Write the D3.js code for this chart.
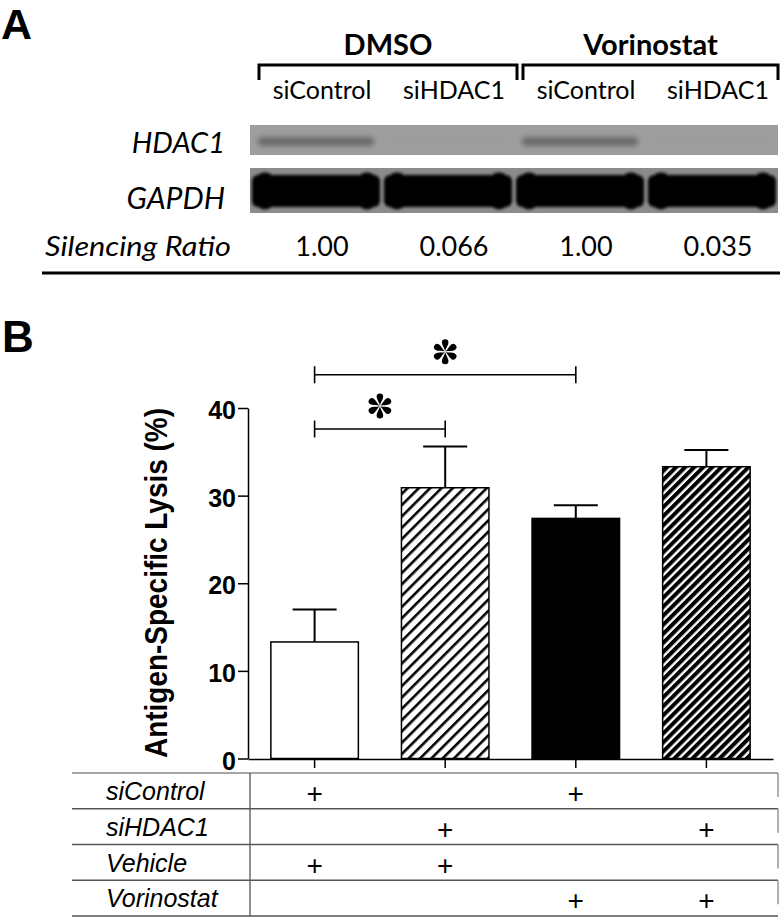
<!DOCTYPE html>
<html>
<head>
<meta charset="utf-8">
<script src="https://cdn.jsdelivr.net/npm/d3@7"></script>
<style>
body { margin: 0; background: #fff; }
svg { display: block; }
</style>
</head>
<body>
<div id="fig"></div>
<script>
// ---- panel A: western blot ----
var treatments = ["DMSO", "Vorinostat"]
var lanes = ["siControl", "siHDAC1", "siControl", "siHDAC1"]
var laneTreatment = ["DMSO", "DMSO", "Vorinostat", "Vorinostat"]
var hdac1Signal = [1.0, 0.066, 1.0, 0.035]
var gapdhSignal = [1, 1, 1, 1]
var ratioLabels = ["1.00", "0.066", "1.00", "0.035"]

// ---- panel B: lysis bars ----
var groups = ["siControl+Vehicle", "siHDAC1+Vehicle", "siControl+Vorinostat", "siHDAC1+Vorinostat"]
var lysis = [13.3, 30.9, 27.4, 33.3]
var lysisErr = [3.7, 4.7, 1.5, 1.9]
var yTicks = [0, 10, 20, 30, 40]
// [bar a, bar b, bracket height in %]
var sigPairs = [[0, 1, 37.6], [0, 2, 43.8]]
var rowLabels = ["siControl", "siHDAC1", "Vehicle", "Vorinostat"]
var rowMarks = [[1, 0, 1, 0], [0, 1, 0, 1], [1, 1, 0, 0], [0, 0, 1, 1]]

var W = 780, H = 917
var sansA = "Lato, 'Open Sans', sans-serif"
var arial = "'Liberation Sans', Arial, sans-serif"

var svg = d3.select('#fig').append('svg')
  .attr('width', W)
  .attr('height', H)
var defs = svg.append('defs')

defs.append('filter').attr('id', 'blur')
  .attr('x', '-20%').attr('y', '-80%').attr('width', '140%').attr('height', '260%')
  .append('feGaussianBlur').attr('stdDeviation', 2.4)
defs.append('filter').attr('id', 'blur2')
  .attr('x', '-20%').attr('y', '-60%').attr('width', '140%').attr('height', '220%')
  .append('feGaussianBlur').attr('stdDeviation', 1.8)

// hatch patterns
var hatchA = defs.append('pattern').attr('id', 'hatchA')
  .attr('patternUnits', 'userSpaceOnUse')
  .attr('width', 8).attr('height', 10)
  .attr('patternTransform', 'rotate(45)')
hatchA.append('rect').attr('width', 8).attr('height', 10).attr('fill', '#fff')
hatchA.append('rect').attr('width', 2.6).attr('height', 10).attr('fill', '#000')

var hatchB = defs.append('pattern').attr('id', 'hatchB')
  .attr('patternUnits', 'userSpaceOnUse')
  .attr('width', 6.4).attr('height', 10)
  .attr('patternTransform', 'rotate(45)')
hatchB.append('rect').attr('width', 6.4).attr('height', 10).attr('fill', '#fff')
hatchB.append('rect').attr('width', 4).attr('height', 10).attr('fill', '#000')

// ================= PANEL A =================
var gA = svg.append('g')

gA.append('text').text('A')
  .attr('x', 1).attr('y', 39)
  .style('font-family', arial).style('font-weight', 'bold').style('font-size', '43px')

var lane = d3.scaleBand().domain(d3.range(lanes.length)).range([250, 778])
var laneLab = d3.scaleBand().domain(d3.range(lanes.length)).range([256, 784])

// treatment headers + brackets
treatments.forEach(function(t) {
  var idx = d3.range(lanes.length).filter(function(i) { return laneTreatment[i] === t })
  var x0 = laneLab(idx[0]) + 3
  var x1 = Math.min(laneLab(idx[idx.length - 1]) + laneLab.bandwidth() - 3, 778)
  gA.append('path')
    .attr('d', 'M' + x0 + ',80V65H' + x1 + 'V80')
    .attr('fill', 'none').attr('stroke', '#000').attr('stroke-width', 3)
  gA.append('text').text(t)
    .attr('x', (x0 + x1) / 2).attr('y', 55)
    .attr('text-anchor', 'middle')
    .style('font-family', sansA).style('font-weight', 'bold').style('font-size', '29px')
})

gA.selectAll('.laneLab').data(lanes).enter().append('text')
  .attr('class', 'laneLab')
  .attr('x', function(d, i) { return laneLab(i) + laneLab.bandwidth() / 2 })
  .attr('y', 99)
  .attr('text-anchor', 'middle')
  .style('font-family', sansA).style('font-size', '25px')
  .text(function(d) { return d })

// HDAC1 strip
var hdacBg = '#9e9e9e'
var bandCol = d3.interpolateRgb(hdacBg, '#6a6a6a')
gA.append('rect').attr('x', 250).attr('y', 125).attr('width', 528).attr('height', 30).attr('fill', hdacBg)
gA.selectAll('.hband').data(hdac1Signal).enter().append('rect')
  .attr('class', 'hband')
  .attr('x', function(d, i) { return lane(i) + 8 })
  .attr('y', 137)
  .attr('width', lane.bandwidth() - 16)
  .attr('height', 9)
  .attr('rx', 4)
  .attr('fill', function(d) { return bandCol(d) })
  .attr('filter', 'url(#blur)')

// GAPDH strip
var gapdhBg = '#8c8c8c'
gA.append('rect').attr('x', 250).attr('y', 168).attr('width', 528).attr('height', 45).attr('fill', gapdhBg)
var gb = gA.selectAll('.gband').data(gapdhSignal).enter().append('g')
  .attr('class', 'gband')
  .attr('filter', 'url(#blur2)')
gb.append('rect')
  .attr('x', function(d, i) { return lane(i) + 2 })
  .attr('y', 175)
  .attr('width', lane.bandwidth() - 4)
  .attr('height', 32)
  .attr('rx', 6)
  .attr('fill', function(d) { return d3.interpolateRgb(gapdhBg, '#000')(d) })
gb.append('ellipse')
  .attr('cx', function(d, i) { return lane(i) + 15 })
  .attr('cy', 191)
  .attr('rx', 13).attr('ry', 18.5)
  .attr('fill', function(d) { return d3.interpolateRgb(gapdhBg, '#000')(d) })
gb.append('ellipse')
  .attr('cx', function(d, i) { return lane(i) + lane.bandwidth() - 15 })
  .attr('cy', 191)
  .attr('rx', 13).attr('ry', 18.5)
  .attr('fill', function(d) { return d3.interpolateRgb(gapdhBg, '#000')(d) })

gA.append('text').text('HDAC1')
  .attr('x', 225).attr('y', 153).attr('text-anchor', 'end')
  .style('font-family', sansA).style('font-style', 'italic').style('font-size', '29px')
gA.append('text').text('GAPDH')
  .attr('x', 225).attr('y', 209).attr('text-anchor', 'end')
  .style('font-family', sansA).style('font-style', 'italic').style('font-size', '30px')
gA.append('text').text('Silencing Ratio')
  .attr('x', 45).attr('y', 256)
  .attr('textLength', 186).attr('lengthAdjust', 'spacingAndGlyphs')
  .style('font-family', sansA).style('font-style', 'italic').style('font-size', '27px')

gA.selectAll('.ratio').data(ratioLabels).enter().append('text')
  .attr('class', 'ratio')
  .attr('x', function(d, i) { return laneLab(i) + laneLab.bandwidth() / 2 })
  .attr('y', 256)
  .attr('text-anchor', 'middle')
  .style('font-family', sansA).style('font-size', '27px')
  .text(function(d) { return d })

gA.append('line').attr('x1', 42).attr('x2', 780).attr('y1', 273).attr('y2', 273)
  .attr('stroke', '#000').attr('stroke-width', 3)

// ================= PANEL B =================
var gB = svg.append('g')

gB.append('text').text('B')
  .attr('x', 2).attr('y', 352)
  .style('font-family', arial).style('font-weight', 'bold').style('font-size', '44px')

var y = d3.scaleLinear().domain([0, 40]).range([758.5, 408])
var x = d3.scaleBand().domain(d3.range(groups.length)).range([248, 773])
  .paddingInner(0.33).paddingOuter(0.175)
var cx = function(i) { return x(i) + x.bandwidth() / 2 }

var yAxis = gB.append('g')
  .attr('transform', 'translate(248,0)')
  .call(d3.axisLeft(y).tickValues(yTicks).tickSize(10).tickSizeOuter(0).tickPadding(2))
yAxis.selectAll('path, line').attr('stroke', '#000').attr('stroke-width', 1.5)
yAxis.selectAll('text')
  .attr('dy', '0.42em')
  .style('font-family', arial).style('font-weight', 'bold').style('font-size', '25px').attr('fill', '#000')

var xAxis = gB.append('g')
  .attr('transform', 'translate(0,759)')
  .call(d3.axisBottom(x).tickSize(9).tickSizeOuter(0).tickFormat(''))
xAxis.selectAll('path, line').attr('stroke', '#000').attr('stroke-width', 1.5)

gB.append('text').text('Antigen-Specific Lysis (%)')
  .attr('transform', 'translate(167,583) rotate(-90)')
  .attr('text-anchor', 'middle')
  .attr('textLength', 350).attr('lengthAdjust', 'spacingAndGlyphs')
  .style('font-family', arial).style('font-weight', 'bold').style('font-size', '31px')

var barFill = ['#fff', 'url(#hatchA)', '#000', 'url(#hatchB)']
gB.selectAll('.bar').data(lysis).enter().append('rect')
  .attr('class', 'bar')
  .attr('x', function(d, i) { return x(i) })
  .attr('y', function(d) { return y(d) })
  .attr('width', x.bandwidth())
  .attr('height', function(d) { return y(0) - y(d) })
  .attr('fill', function(d, i) { return barFill[i] })
  .attr('stroke', '#000').attr('stroke-width', 1.5)

// error bars (upper only)
var eb = gB.selectAll('.err').data(lysis).enter().append('g').attr('class', 'err')
eb.append('line')
  .attr('x1', function(d, i) { return cx(i) }).attr('x2', function(d, i) { return cx(i) })
  .attr('y1', function(d) { return y(d) })
  .attr('y2', function(d, i) { return y(d + lysisErr[i]) })
  .attr('stroke', '#000').attr('stroke-width', 2)
eb.append('line')
  .attr('x1', function(d, i) { return cx(i) - 22 }).attr('x2', function(d, i) { return cx(i) + 22 })
  .attr('y1', function(d, i) { return y(d + lysisErr[i]) })
  .attr('y2', function(d, i) { return y(d + lysisErr[i]) })
  .attr('stroke', '#000').attr('stroke-width', 2)

// significance brackets with teardrop asterisks
var petal = 'M0,-0.5C-0.5,-3 -3.3,-6.8 -3.3,-9.2A3.3,3.3 0 1 1 3.3,-9.2C3.3,-6.8 0.5,-3 0,-0.5Z'
sigPairs.forEach(function(p) {
  var xa = cx(p[0]), xb = cx(p[1]), yy = y(p[2])
  var g = gB.append('g')
  g.append('path')
    .attr('d', 'M' + xa + ',' + (yy - 8.5) + 'V' + (yy + 8.5) + 'M' + xa + ',' + yy + 'H' + xb +
      'M' + xb + ',' + (yy - 8.5) + 'V' + (yy + 8.5))
    .attr('fill', 'none').attr('stroke', '#000').attr('stroke-width', 1.6)
  var star = g.append('g').attr('transform', 'translate(' + ((xa + xb) / 2) + ',' + (yy - 23) + ')')
  d3.range(6).forEach(function(k) {
    star.append('path').attr('d', petal).attr('transform', 'rotate(' + (k * 60) + ')').attr('fill', '#000')
  })
})

// condition table
var row = d3.scaleBand().domain(d3.range(rowLabels.length)).range([773, 916])
var lineCol = '#555'
d3.range(rowLabels.length + 1).forEach(function(r) {
  var yy = r < rowLabels.length ? row(r) : 916
  gB.append('line').attr('x1', 72).attr('x2', 778).attr('y1', yy).attr('y2', yy)
    .attr('stroke', r === 0 ? '#888' : lineCol).attr('stroke-width', 1.3)
})
gB.append('line').attr('x1', 250).attr('x2', 250).attr('y1', 773).attr('y2', 916)
  .attr('stroke', lineCol).attr('stroke-width', 1.3)
rowLabels.forEach(function(lab, r) {
  gB.append('line').attr('x1', 778).attr('x2', 778).attr('y1', row(r)).attr('y2', row(r) + 24)
    .attr('stroke', '#888').attr('stroke-width', 1.3)
  gB.append('text').text(lab)
    .attr('x', 106).attr('y', row(r) + 27)
    .style('font-family', arial).style('font-style', 'italic').style('font-size', '25px')
  rowMarks[r].forEach(function(m, c) {
    if (!m) return
    gB.append('text').text('+')
      .attr('x', cx(c)).attr('y', row(r) + 30)
      .attr('text-anchor', 'middle')
      .style('font-family', arial).style('font-size', '28px')
  })
})
</script>
</body>
</html>
